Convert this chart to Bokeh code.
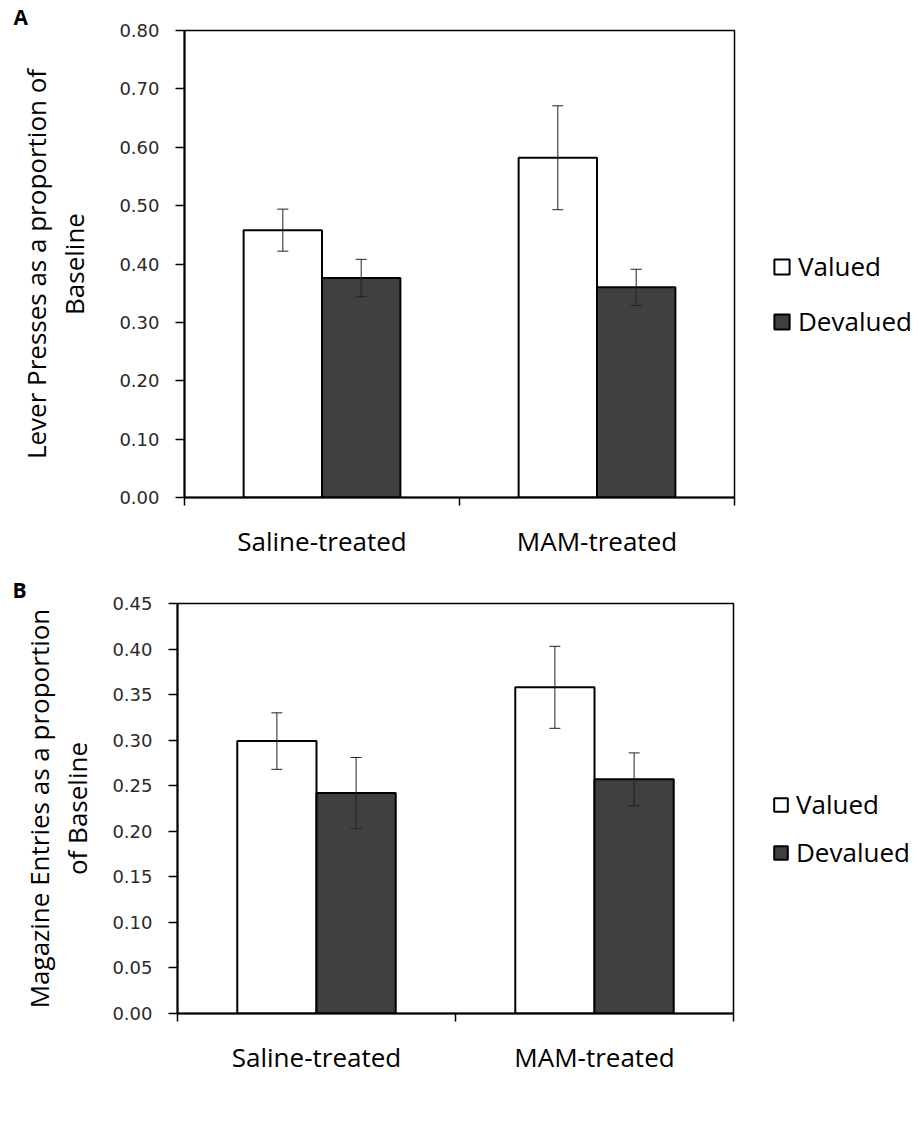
from bokeh.plotting import figure
from bokeh.models import (Range1d, FixedTicker, NumeralTickFormatter, ColumnDataSource,
                          Whisker, TeeHead, Legend, LegendItem, Title)
from bokeh.layouts import column, row
from bokeh.embed import file_html
from bokeh.resources import INLINE

categories = ["Saline-treated", "MAM-treated"]
series = ["Valued", "Devalued"]

a_valued = [0.458, 0.582]
a_valued_err = [0.036, 0.089]
a_devalued = [0.376, 0.360]
a_devalued_err = [0.032, 0.031]
a_yticks = [0.0, 0.1, 0.2, 0.3, 0.4, 0.5, 0.6, 0.7, 0.8]

b_valued = [0.299, 0.358]
b_valued_err = [0.031, 0.045]
b_devalued = [0.242, 0.257]
b_devalued_err = [0.039, 0.029]
b_yticks = [0.0, 0.05, 0.10, 0.15, 0.20, 0.25, 0.30, 0.35, 0.40, 0.45]

LABEL_FONT = "Open Sans"
TICK_FONT = "DejaVu Sans"
BAR_W = 0.285
TOTAL_W = 922
VALUED_STYLE = dict(fill_color="white", line_color="black", line_width=2)
DEVALUED_STYLE = dict(fill_color="#404040", line_color="black", line_width=2)


def make_panel(letter, ylabel, valued, verr, devalued, derr, yticks, height,
               left, frame_right, top, frame_h, letter_off, label_standoff):
    p = figure(width=frame_right + 2, height=height, output_backend="svg", toolbar_location=None,
               x_range=Range1d(0, len(categories)), y_range=Range1d(0, yticks[-1]),
               min_border_left=left, min_border_right=2, min_border_top=top,
               min_border_bottom=height - top - frame_h)
    p.xgrid.visible = False
    p.ygrid.visible = False
    p.outline_line_color = "black"
    p.outline_line_width = 1.5
    p.outline_line_alpha = 1.0
    p.background_fill_color = "white"
    p.border_fill_color = "white"

    p.title = Title(text=letter, align="left", offset=letter_off, standoff=0,
                    text_font=LABEL_FONT, text_font_style="bold", text_font_size="21px",
                    text_color="black")

    centers = [i + 0.5 for i in range(len(categories))]
    xv = [c - BAR_W / 2 for c in centers]
    xd = [c + BAR_W / 2 for c in centers]

    p.vbar(x=xv, top=valued, width=BAR_W, bottom=0, **VALUED_STYLE)
    p.vbar(x=xd, top=devalued, width=BAR_W, bottom=0, **DEVALUED_STYLE)

    for xs, vals, errs in ((xv, valued, verr), (xd, devalued, derr)):
        src = ColumnDataSource(dict(base=xs,
                                    lower=[v - e for v, e in zip(vals, errs)],
                                    upper=[v + e for v, e in zip(vals, errs)]))
        w = Whisker(base="base", lower="lower", upper="upper", source=src,
                    line_color="#222222", line_width=1,
                    upper_head=TeeHead(size=11, line_color="#222222", line_width=1),
                    lower_head=TeeHead(size=11, line_color="#222222", line_width=1),
                    level="annotation")
        p.add_layout(w)

    # x axis
    xa = p.xaxis[0]
    xa.ticker = FixedTicker(ticks=centers, minor_ticks=[float(i) for i in range(len(categories) + 1)])
    xa.major_label_overrides = {c: name for c, name in zip(centers, categories)}
    xa.major_tick_line_color = None
    xa.major_tick_out = 8
    xa.minor_tick_in = 0
    xa.minor_tick_out = 8
    xa.minor_tick_line_color = "black"
    xa.minor_tick_line_width = 1.5
    xa.axis_line_width = 2
    xa.axis_line_color = "black"
    xa.major_label_standoff = 17
    xa.major_label_text_font = LABEL_FONT
    xa.major_label_text_font_size = "26px"
    xa.major_label_text_color = "black"

    # y axis
    ya = p.yaxis[0]
    ya.ticker = FixedTicker(ticks=yticks)
    ya.formatter = NumeralTickFormatter(format="0.00")
    ya.major_tick_in = 0
    ya.major_tick_out = 9
    ya.major_tick_line_width = 1.5
    ya.major_tick_line_color = "black"
    ya.minor_tick_line_color = None
    ya.axis_line_width = 2
    ya.axis_line_color = "black"
    ya.major_label_standoff = 16
    ya.major_label_text_font = TICK_FONT
    ya.major_label_text_font_size = "18px"
    ya.major_label_text_color = "#2a2a2a"
    ya.axis_label = ylabel
    ya.axis_label_text_font = LABEL_FONT
    ya.axis_label_text_font_size = "26px"
    ya.axis_label_text_font_style = "normal"
    ya.axis_label_text_color = "black"
    ya.axis_label_text_line_height = 1.07
    ya.axis_label_standoff = label_standoff
    return p


def make_legend(width, height, leg_x, leg_y, glyph, spacing):
    lf = figure(width=width, height=height, output_backend="svg", toolbar_location=None,
                x_range=Range1d(0, 1), y_range=Range1d(0, 1),
                min_border_left=0, min_border_right=0, min_border_top=0, min_border_bottom=0)
    lf.axis.visible = False
    lf.xgrid.visible = False
    lf.ygrid.visible = False
    lf.outline_line_color = None
    # legend-only renderers with no drawable extent (NaN top)
    nan = float("nan")
    rv = lf.vbar(x=[0.5], top=[nan], bottom=[nan], width=0.1, **VALUED_STYLE)
    rd = lf.vbar(x=[0.5], top=[nan], bottom=[nan], width=0.1, **DEVALUED_STYLE)
    legend = Legend(items=[LegendItem(label=series[0], renderers=[rv]),
                           LegendItem(label=series[1], renderers=[rd])],
                    location=(leg_x, leg_y), orientation="vertical",
                    glyph_width=glyph, glyph_height=glyph, label_height=36,
                    label_standoff=7, spacing=spacing, padding=0, margin=0,
                    label_text_font=LABEL_FONT, label_text_font_size="26px",
                    label_text_color="black", border_line_color=None,
                    background_fill_alpha=0)
    lf.add_layout(legend, "center")
    return lf


pa = make_panel("A", "Lever Presses as a proportion of\nBaseline",
                a_valued, a_valued_err, a_devalued, a_devalued_err, a_yticks,
                height=565, left=184, frame_right=734, top=29, frame_h=468,
                letter_off=-171, label_standoff=24)
la = make_legend(TOTAL_W - 736, 565, 36, 158, 19, 19)

pb = make_panel("B", "Magazine Entries as a proportion\nof Baseline",
                b_valued, b_valued_err, b_devalued, b_devalued_err, b_yticks,
                height=575, left=177, frame_right=733, top=38, frame_h=410,
                letter_off=-165, label_standoff=14)
lb = make_legend(TOTAL_W - 735, 575, 37, 143, 17, 12)

layout = column(row(pa, la, spacing=0), row(pb, lb, spacing=0), spacing=0)
open("out.html", "w").write(file_html(layout, INLINE))
